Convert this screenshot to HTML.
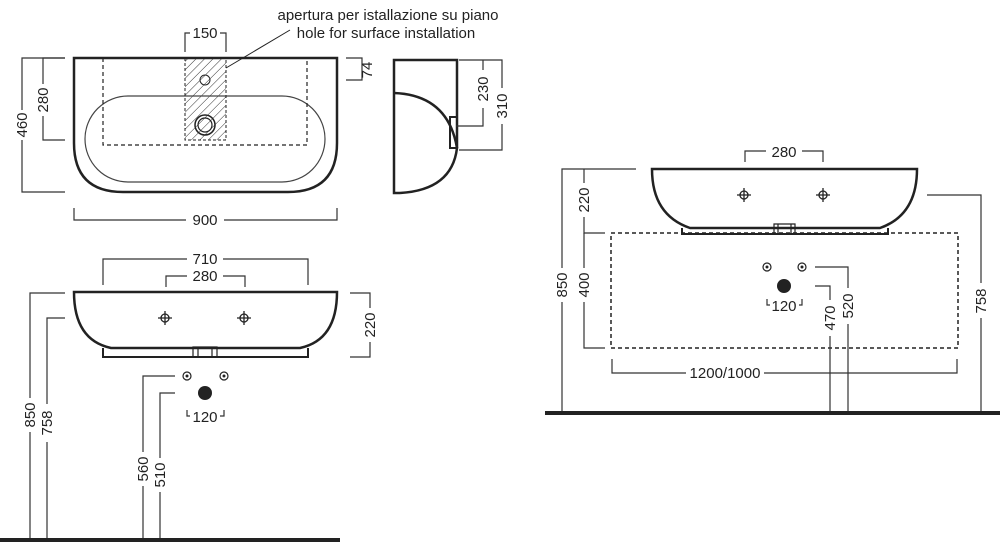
<!DOCTYPE html>
<html><head><meta charset="utf-8"><style>
html,body{margin:0;padding:0;background:#fff;}
svg{display:block;}
text{font-family:"Liberation Sans",sans-serif;font-size:15px;fill:#222;}
</style></head><body>
<svg width="1000" height="547" viewBox="0 0 1000 547" xmlns="http://www.w3.org/2000/svg">
<defs>
<pattern id="h" width="6" height="6" patternUnits="userSpaceOnUse" patternTransform="rotate(45)">
<line x1="0" y1="0" x2="0" y2="6" stroke="#333" stroke-width="1"/>
</pattern>
</defs>
<g fill="none" stroke="#222">
<!-- TOP VIEW -->
<rect x="185" y="58" width="41" height="82" fill="url(#h)" stroke="none"/>
<path d="M74 58 H337 V143 Q337 192 288 192 H123 Q74 192 74 143 Z" stroke-width="2.5"/>
<rect x="85" y="96" width="240" height="86" rx="43" stroke-width="1.2" stroke="#444"/>
<path d="M103 58 V145 H307 V58" stroke-width="1.2" stroke-dasharray="4,3"/>
<path d="M185 58 V140 H226 V58" stroke-width="1" stroke-dasharray="3,2"/>
<circle cx="205" cy="80" r="5" stroke-width="1"/>
<circle cx="205" cy="125" r="10" stroke-width="1.5"/>
<circle cx="205" cy="125" r="7" stroke-width="1.2"/>
<line x1="226" y1="68" x2="290" y2="30" stroke-width="1"/>
<g stroke-width="1.2" stroke="#333">
<path d="M185 52 V33 H190 M220 33 H226 V52"/>
<path d="M65 58 H22 V110 M22 140 V192 H65"/>
<path d="M65 58 H43 V84 M43 116 V140 H65"/>
<path d="M346 58 H362 V80 H346"/>
<path d="M74 208 V220 H186 M224 220 H337 V208"/>
</g>
<!-- SIDE VIEW -->
<path d="M457 148 V60 H394 V193 H400" stroke-width="2.5"/>
<path d="M394 93 Q448 95 457 148 Q452 190 400 193" stroke-width="2.5"/>
<rect x="450" y="117" width="7" height="31" stroke-width="2"/>
<g stroke-width="1.2" stroke="#333">
<path d="M459 60 H502 V88 M502 124 V150 H459"/>
<path d="M483 60 V70 M483 108 V126 H456"/>
</g>
<!-- FRONT VIEW -->
<path d="M74 292 H337 Q337 340 300 348 H111 Q74 340 74 292 Z" stroke-width="2.5"/>
<path d="M103 348 V357 H308 V348" stroke-width="2"/>
<path d="M193 357 V347 H217 V357 M198 347 V357 M212 347 V357" stroke-width="1.2"/>
<g stroke-width="1.2" stroke="#333">
<path d="M103 285 V259 H187 M223 259 H308 V285"/>
<path d="M166 287 V276 H187 M223 276 H245 V287"/>
<path d="M350 293 H370 V308 M370 342 V357 H350"/>
<path d="M65 293 H30 V398 M30 432 V540"/>
<path d="M65 318 H47 V404 M47 442 V540"/>
<path d="M175 376 H143 V452 M143 486 V540"/>
<path d="M175 393 H160 V458 M160 492 V540"/>
<path d="M187 410 V416 H190 M220 416 H224 V410"/>
</g>
<circle cx="187" cy="376" r="4" stroke-width="1.2"/>
<circle cx="224" cy="376" r="4" stroke-width="1.2"/>
<line x1="0" y1="540" x2="340" y2="540" stroke-width="4"/>
<!-- RIGHT VIEW -->
<path d="M652 169 H917 Q917 215 880 228 H690 Q652 215 652 169 Z" stroke-width="2.5"/>
<path d="M682 228 V234 H888 V228" stroke-width="2"/>
<path d="M774 234 V224 H795 V234 M778 224 V234 M791 224 V234" stroke-width="1.2"/>
<rect x="611" y="233" width="347" height="115" stroke-width="1.5" stroke-dasharray="4,3"/>
<g stroke-width="1.2" stroke="#333">
<path d="M745 162 V151 H766 M802 151 H823 V162"/>
<path d="M636 169 H562 V268 M562 302 V413"/>
<path d="M584 169 V183 M584 217 V233 H605"/>
<path d="M584 233 V268 M584 302 V348 H605"/>
<path d="M927 195 H981 V283 M981 318 V413"/>
<path d="M815 267 H848 V288 M848 324 V413"/>
<path d="M815 286 H830 V300 M830 336 V413"/>
<path d="M612 359 V373 H686 M764 373 H957 V359"/>
<path d="M767 299 V305 H770 M799 305 H802 V299"/>
</g>
<circle cx="767" cy="267" r="4" stroke-width="1.2"/>
<circle cx="802" cy="267" r="4" stroke-width="1.2"/>
<line x1="545" y1="413" x2="1000" y2="413" stroke-width="4"/>
</g>
<g fill="#222">
<circle cx="205" cy="393" r="7"/>
<circle cx="784" cy="286" r="7"/>
<circle cx="187" cy="376" r="1.5"/><circle cx="224" cy="376" r="1.5"/>
<circle cx="767" cy="267" r="1.5"/><circle cx="802" cy="267" r="1.5"/>
</g>
<g stroke="#222" stroke-width="1.3" fill="none">
<g transform="translate(165,318)"><circle r="4"/><path d="M-7 0H7M0 -7V7"/></g>
<g transform="translate(244,318)"><circle r="4"/><path d="M-7 0H7M0 -7V7"/></g>
<g transform="translate(744,195)"><circle r="4"/><path d="M-7 0H7M0 -7V7"/></g>
<g transform="translate(823,195)"><circle r="4"/><path d="M-7 0H7M0 -7V7"/></g>
</g>
<!-- TEXT -->
<text x="388" y="20" text-anchor="middle">apertura per istallazione su piano</text>
<text x="386" y="38" text-anchor="middle">hole for surface installation</text>
<text x="205" y="38" text-anchor="middle">150</text>
<text x="205" y="225" text-anchor="middle">900</text>
<text transform="translate(27,125) rotate(-90)" text-anchor="middle">460</text>
<text transform="translate(48,100) rotate(-90)" text-anchor="middle">280</text>
<text transform="translate(372,70) rotate(-90)" text-anchor="middle">74</text>
<text transform="translate(488,89) rotate(-90)" text-anchor="middle">230</text>
<text transform="translate(507,106) rotate(-90)" text-anchor="middle">310</text>
<text x="205" y="264" text-anchor="middle">710</text>
<text x="205" y="281" text-anchor="middle">280</text>
<text transform="translate(375,325) rotate(-90)" text-anchor="middle">220</text>
<text transform="translate(35,415) rotate(-90)" text-anchor="middle">850</text>
<text transform="translate(52,423) rotate(-90)" text-anchor="middle">758</text>
<text transform="translate(148,469) rotate(-90)" text-anchor="middle">560</text>
<text transform="translate(165,475) rotate(-90)" text-anchor="middle">510</text>
<text x="205" y="422" text-anchor="middle">120</text>
<text x="784" y="157" text-anchor="middle">280</text>
<text transform="translate(567,285) rotate(-90)" text-anchor="middle">850</text>
<text transform="translate(589,200) rotate(-90)" text-anchor="middle">220</text>
<text transform="translate(589,285) rotate(-90)" text-anchor="middle">400</text>
<text transform="translate(986,301) rotate(-90)" text-anchor="middle">758</text>
<text transform="translate(853,306) rotate(-90)" text-anchor="middle">520</text>
<text transform="translate(835,318) rotate(-90)" text-anchor="middle">470</text>
<text x="784" y="311" text-anchor="middle">120</text>
<text x="725" y="378" text-anchor="middle">1200/1000</text>
</svg>
</body></html>
